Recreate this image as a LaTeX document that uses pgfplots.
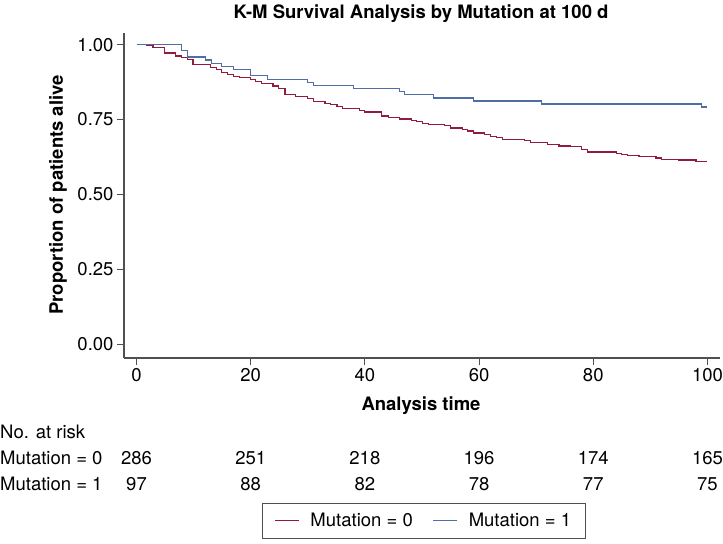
\documentclass[border=0pt]{standalone}
\usepackage{fontspec}
\setmainfont{TeX Gyre Heros}
\usepackage{pgfplots}
\pgfplotsset{compat=1.18}
\definecolor{kmred}{RGB}{145,28,62}
\definecolor{kmblue}{RGB}{78,110,165}
\definecolor{axgray}{RGB}{80,80,80}
\newcommand{\fs}{\fontsize{18.5bp}{22bp}\selectfont}
\begin{document}
\begin{tikzpicture}[x=1bp,y=1bp]
\useasboundingbox (0,0) rectangle (723,544);
\node[font=\fs\bfseries] at (421,530) {K-M Survival Analysis by Mutation at 100 d};
\node[font=\fs\bfseries, rotate=90] at (58,349) {Proportion of patients alive};
\node[font=\fs\bfseries] at (421,138) {Analysis time};
\node[font=\fs, anchor=west, inner sep=0pt] at (0,112) {No. at risk};
\node[font=\fs, anchor=west, inner sep=0pt] at (0,86) {Mutation = 0};
\node[font=\fs, anchor=west, inner sep=0pt] at (0,60) {Mutation = 1};
\begin{axis}[
  at={(124bp,186bp)}, anchor=south west,
  scale only axis, width=596bp, height=325.3bp,
  xmin=-2.19, xmax=102.2, ymin=-0.0457, ymax=1.040,
  axis x line=bottom, axis y line=left,
  axis line style={-, axgray, line width=1.1pt},
  tick style={axgray, line width=1.0pt},
  tick align=outside, major tick length=7bp,
  xtick={0,20,40,60,80,100},
  ytick={0,0.25,0.5,0.75,1},
  yticklabel style={/pgf/number format/fixed, /pgf/number format/zerofill, /pgf/number format/precision=2},
  /pgf/number format/assume math mode=true,
  ticklabel style={font=\fs},
  clip=false,
  legend style={at={(0.503,-0.4457)}, anchor=north, draw=axgray, line width=0.8pt,
    font=\fs, legend columns=2, inner xsep=12bp, inner ysep=8bp,
    /tikz/every odd column/.append style={column sep=9bp},
    /tikz/every even column/.append style={column sep=18bp}},
  legend image code/.code={\draw[#1, line width=1pt] (0bp,0bp) -- (24bp,0bp);},
]
\addplot[const plot, kmred, line width=1.2pt] coordinates {
(0,1) (1.8,0.997) (2.9,0.990) (4.9,0.972) (6.8,0.962) (7.9,0.958) (9.0,0.951) (9.9,0.933)
(12.9,0.925) (14.0,0.916) (14.9,0.907) (15.9,0.901) (17.0,0.895) (18.0,0.890) (19.9,0.885)
(20.9,0.877) (21.9,0.870) (23.9,0.862) (24.9,0.853) (26.0,0.834) (27.9,0.826) (29.9,0.820)
(31.0,0.811) (33.0,0.805) (34.0,0.800) (35.1,0.793) (36.1,0.788) (39.0,0.781) (40.0,0.775)
(42.9,0.762) (44.1,0.758) (46.0,0.752) (48.1,0.748) (49.1,0.743) (50.1,0.738) (51.1,0.733)
(54.0,0.729) (55.0,0.722) (57.1,0.718) (58.0,0.712) (59.0,0.705) (61.0,0.700) (62.0,0.693)
(63.1,0.689) (64.1,0.684) (68.0,0.679) (69.0,0.673) (72.0,0.668) (74.0,0.662) (76.0,0.659)
(78.0,0.650) (79.0,0.642) (84.0,0.638) (85.0,0.634) (86.0,0.631) (88.0,0.628) (91.0,0.622)
(92.0,0.618) (94.9,0.615) (98.0,0.610) (100,0.610)
};
\addlegendentry{Mutation = 0}
\addplot[const plot, kmblue, line width=1.2pt] coordinates {
(0,1) (7.9,0.980) (9.0,0.959) (12.05,0.949) (13.1,0.938) (14.9,0.928) (17.0,0.917)
(19.9,0.896) (23.0,0.885) (29.9,0.875) (31.0,0.863) (38.0,0.854) (46.0,0.843) (46.9,0.833)
(52.0,0.822) (59.0,0.812) (71.0,0.802) (99.0,0.792) (100,0.792)
};
\addlegendentry{Mutation = 1}
\node[font=\fs] at (axis cs:0,-0.3795) {286};
\node[font=\fs] at (axis cs:20,-0.3795) {251};
\node[font=\fs] at (axis cs:40,-0.3795) {218};
\node[font=\fs] at (axis cs:60,-0.3795) {196};
\node[font=\fs] at (axis cs:80,-0.3795) {174};
\node[font=\fs] at (axis cs:100,-0.3795) {165};
\node[font=\fs] at (axis cs:0,-0.4663) {97};
\node[font=\fs] at (axis cs:20,-0.4663) {88};
\node[font=\fs] at (axis cs:40,-0.4663) {82};
\node[font=\fs] at (axis cs:60,-0.4663) {78};
\node[font=\fs] at (axis cs:80,-0.4663) {77};
\node[font=\fs] at (axis cs:100,-0.4663) {75};
\end{axis}
\end{tikzpicture}
\end{document}
